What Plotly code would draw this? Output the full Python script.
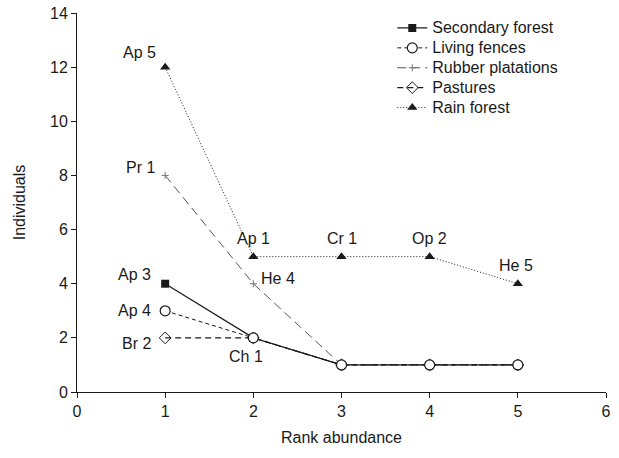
import plotly.graph_objects as go

rank = [1, 2, 3, 4, 5]
secondary_forest = [4, 2, 1, 1, 1]
living_fences = [3, 2, 1, 1, 1]
rubber_rank = [1, 2, 3]
rubber_plantations = [8, 4, 1]
pastures = [2, 2, 1, 1, 1]
rain_forest = [12, 5, 5, 5, 4]

x_ticks = [0, 1, 2, 3, 4, 5, 6]
y_ticks = [0, 2, 4, 6, 8, 10, 12, 14]

# point labels: text and the data point it belongs to
label_text = ["Ap 5", "Pr 1", "Ap 3", "Ap 4", "Br 2", "Ch 1", "He 4", "Ap 1", "Cr 1", "Op 2", "He 5"]
label_x = [1, 1, 1, 1, 1, 2, 2, 2, 3, 4, 5]
label_y = [12, 8, 4, 3, 2, 2, 4, 5, 5, 5, 4]
label_shift = [(-26, 15), (-25, 8), (-31, 9), (-31, 0), (-29, -6), (-7, -19), (25, 5), (0, 18), (0, 18), (0, 18), (-2, 18)]

ink = "#1a1a1a"
fig = go.Figure()


def lg(name):
    return "<span style='font-size:16px'>" + name + "</span>"


fig.add_trace(go.Scatter(
    x=rank, y=secondary_forest, name=lg("Secondary forest"), legendrank=1,
    mode="lines+markers", line=dict(color=ink, width=1.2),
    marker=dict(symbol="square", size=8, color=ink)))
fig.add_trace(go.Scatter(
    x=rank, y=pastures, name=lg("Pastures"), legendrank=4,
    mode="lines+markers", line=dict(color=ink, width=1.2, dash="6px,4px"),
    marker=dict(symbol="diamond-open", size=9, color=ink, line=dict(width=1))))
fig.add_trace(go.Scatter(
    x=rubber_rank, y=rubber_plantations, name=lg("Rubber platations"), legendrank=3,
    mode="lines+markers", line=dict(color="#555555", width=1, dash="9px,5px"),
    marker=dict(symbol="cross-thin", size=5, color="#777777", line=dict(width=1, color="#777777"))))
fig.add_trace(go.Scatter(
    x=rank, y=living_fences, name=lg("Living fences"), legendrank=2,
    mode="lines+markers", line=dict(color=ink, width=1, dash="4px,3px"),
    marker=dict(symbol="circle", size=10, color="white", line=dict(width=1.2, color=ink))))
fig.add_trace(go.Scatter(
    x=rank, y=rain_forest, name=lg("Rain forest"), legendrank=5,
    mode="lines+markers", line=dict(color=ink, width=1, dash="1px,2px"),
    marker=dict(symbol="triangle-up", size=9, color=ink)))

for t, x, y, (dx, dy) in zip(label_text, label_x, label_y, label_shift):
    fig.add_annotation(x=x, y=y, text=t, showarrow=False, xshift=dx, yshift=dy,
                       font=dict(size=16, color=ink))

axis_common = dict(showline=True, linecolor=ink, linewidth=1, ticks="outside",
                   ticklen=5, tickcolor=ink, showgrid=False, zeroline=False,
                   automargin=False, ticklabeloverflow="allow",
                   tickfont=dict(size=16, color=ink))
fig.update_xaxes(range=[0, 6], tickvals=x_ticks,
                 title=dict(text="Rank abundance", font=dict(size=16, color=ink), standoff=12),
                 **axis_common)
fig.update_yaxes(range=[0, 14], tickvals=y_ticks,
                 title=dict(text="Individuals", font=dict(size=16, color=ink), standoff=20),
                 **axis_common)

fig.update_layout(
    width=619, height=458,
    margin=dict(l=77, r=13, t=13, b=66),
    plot_bgcolor="white", paper_bgcolor="white",
    font=dict(family="Liberation Sans, Arial, sans-serif", color=ink),
    showlegend=True,
    legend=dict(x=0.596, y=1.0, xanchor="left", yanchor="top", font=dict(size=13, color=ink),
                bgcolor="rgba(0,0,0,0)", tracegroupgap=0, itemwidth=30),
)

# remove the default page margin so the figure sits at the window's top-left corner
fig.write_html("out.html", config={"displayModeBar": False},
               post_script="document.body.style.margin='0';")
